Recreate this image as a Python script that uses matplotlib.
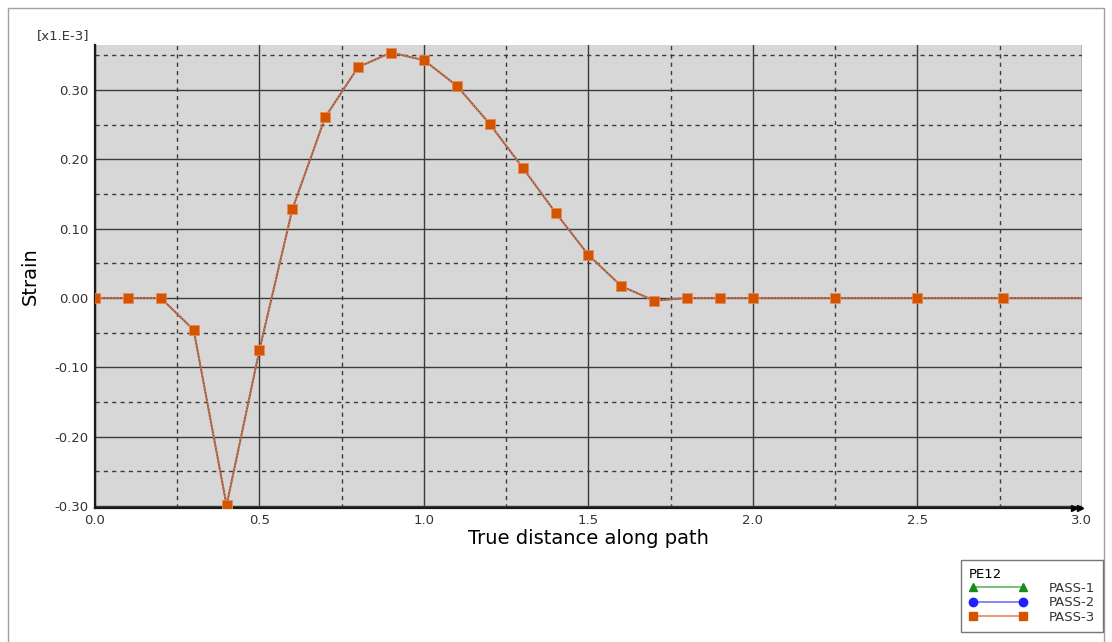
import matplotlib.pyplot as plt
from matplotlib.lines import Line2D
from matplotlib.patches import Rectangle
from matplotlib.ticker import MultipleLocator, FormatStrFormatter

# strain along the path (units of 1e-3)
distance = [0.0, 0.1, 0.2, 0.3, 0.4, 0.5, 0.6, 0.7, 0.8, 0.9, 1.0, 1.1, 1.2,
            1.3, 1.4, 1.5, 1.6, 1.7, 1.8, 1.9, 2.0, 2.25, 2.5, 2.76, 3.0]
strain = [0.0, 0.0, 0.0, -0.046, -0.299, -0.075, 0.128, 0.261, 0.333, 0.354,
          0.343, 0.306, 0.251, 0.188, 0.123, 0.062, 0.017, -0.004, 0.0, 0.0,
          0.0, 0.0, 0.0, 0.0, 0.0]
series = ["PASS-1", "PASS-2", "PASS-3"]
colors = ["#1a8a1a", "#1f1fff", "#d45500"]
line_colors = ["#5cb85c", "#6f6fff", "#e8875a"]
markers = ["^", "o", "s"]

fig = plt.figure(figsize=(11.12, 6.42), dpi=100)
fig.add_artist(Rectangle((0.007, -0.01), 0.986, 0.998, transform=fig.transFigure,
                         fill=False, edgecolor="#a0a0a0", linewidth=1.0))
ax = fig.add_axes([0.0854, 0.2087, 0.8876, 0.7213])
ax.set_facecolor("#d7d7d7")

# all passes share the same path values; the last pass sits on top
n = len(distance)
ax.plot(distance, strain, color="#8c5a4c", linewidth=1.4, zorder=3)
ax.plot(distance, strain, color="#e07a45", linewidth=1.2, linestyle=(0, (1, 1)),
        zorder=4)
ax.plot(distance, strain, linestyle="none", marker="s", markersize=7,
        markerfacecolor="#d45500", markeredgecolor="#e8875a",
        markeredgewidth=0.6, markevery=list(range(n - 1)), zorder=5)

ax.set_xlim(0.0, 3.0)
ax.set_ylim(-0.303, 0.365)
ax.xaxis.set_major_locator(MultipleLocator(0.5))
ax.xaxis.set_minor_locator(MultipleLocator(0.25))
ax.yaxis.set_major_locator(MultipleLocator(0.1))
ax.yaxis.set_minor_locator(MultipleLocator(0.05))
ax.xaxis.set_major_formatter(FormatStrFormatter("%.1f"))
ax.yaxis.set_major_formatter(FormatStrFormatter("%.2f"))
ax.set_yticks([-0.3, -0.2, -0.1, 0.0, 0.1, 0.2, 0.3])

ax.grid(which="major", color="#3a3a3a", linewidth=1.0, linestyle="-")
ax.grid(which="minor", color="#3a3a3a", linewidth=1.0, linestyle=(0, (3, 3)))
ax.set_axisbelow(True)
ax.tick_params(which="both", length=0, labelsize=9.5, colors="#333333", pad=5)
ax.tick_params(axis="x", pad=4)
for side in ["top", "right"]:
    ax.spines[side].set_visible(False)
for side in ["left", "bottom"]:
    ax.spines[side].set_linewidth(1.6)
    ax.spines[side].set_color("#1a1a1a")

ax.set_xlabel("True distance along path", fontsize=14, labelpad=2)
ax.set_ylabel("Strain", fontsize=14, labelpad=10)
fig.text(0.057, 0.935, "[x1.E-3]", fontsize=9.5, color="#333333", ha="center",
         va="bottom")

# axis end arrows
ax.plot([0.992, 0.9985], [0.0, 0.0], transform=ax.transAxes, linestyle="none",
        marker=">", markersize=5, color="black", clip_on=False, zorder=6)

handles = [Line2D([0], [0], color=lc, marker=m, markerfacecolor=c,
                  markeredgecolor=c, markersize=6, linewidth=1.2)
           for c, lc, m in zip(colors, line_colors, markers)]
leg = fig.legend(handles, series, title="PE12", loc="upper left",
                 bbox_to_anchor=(0.864, 0.128), numpoints=2, fontsize=9.5,
                 title_fontsize=9.5, frameon=True, fancybox=False,
                 edgecolor="#555555", handlelength=4.4, handletextpad=1.7,
                 labelspacing=0.1, borderpad=0.6, borderaxespad=0.0,
                 alignment="left")
leg.get_frame().set_linewidth(1.0)
for t in leg.get_texts():
    t.set_color("#333333")

fig.savefig("out.png", dpi=100, facecolor="white")
